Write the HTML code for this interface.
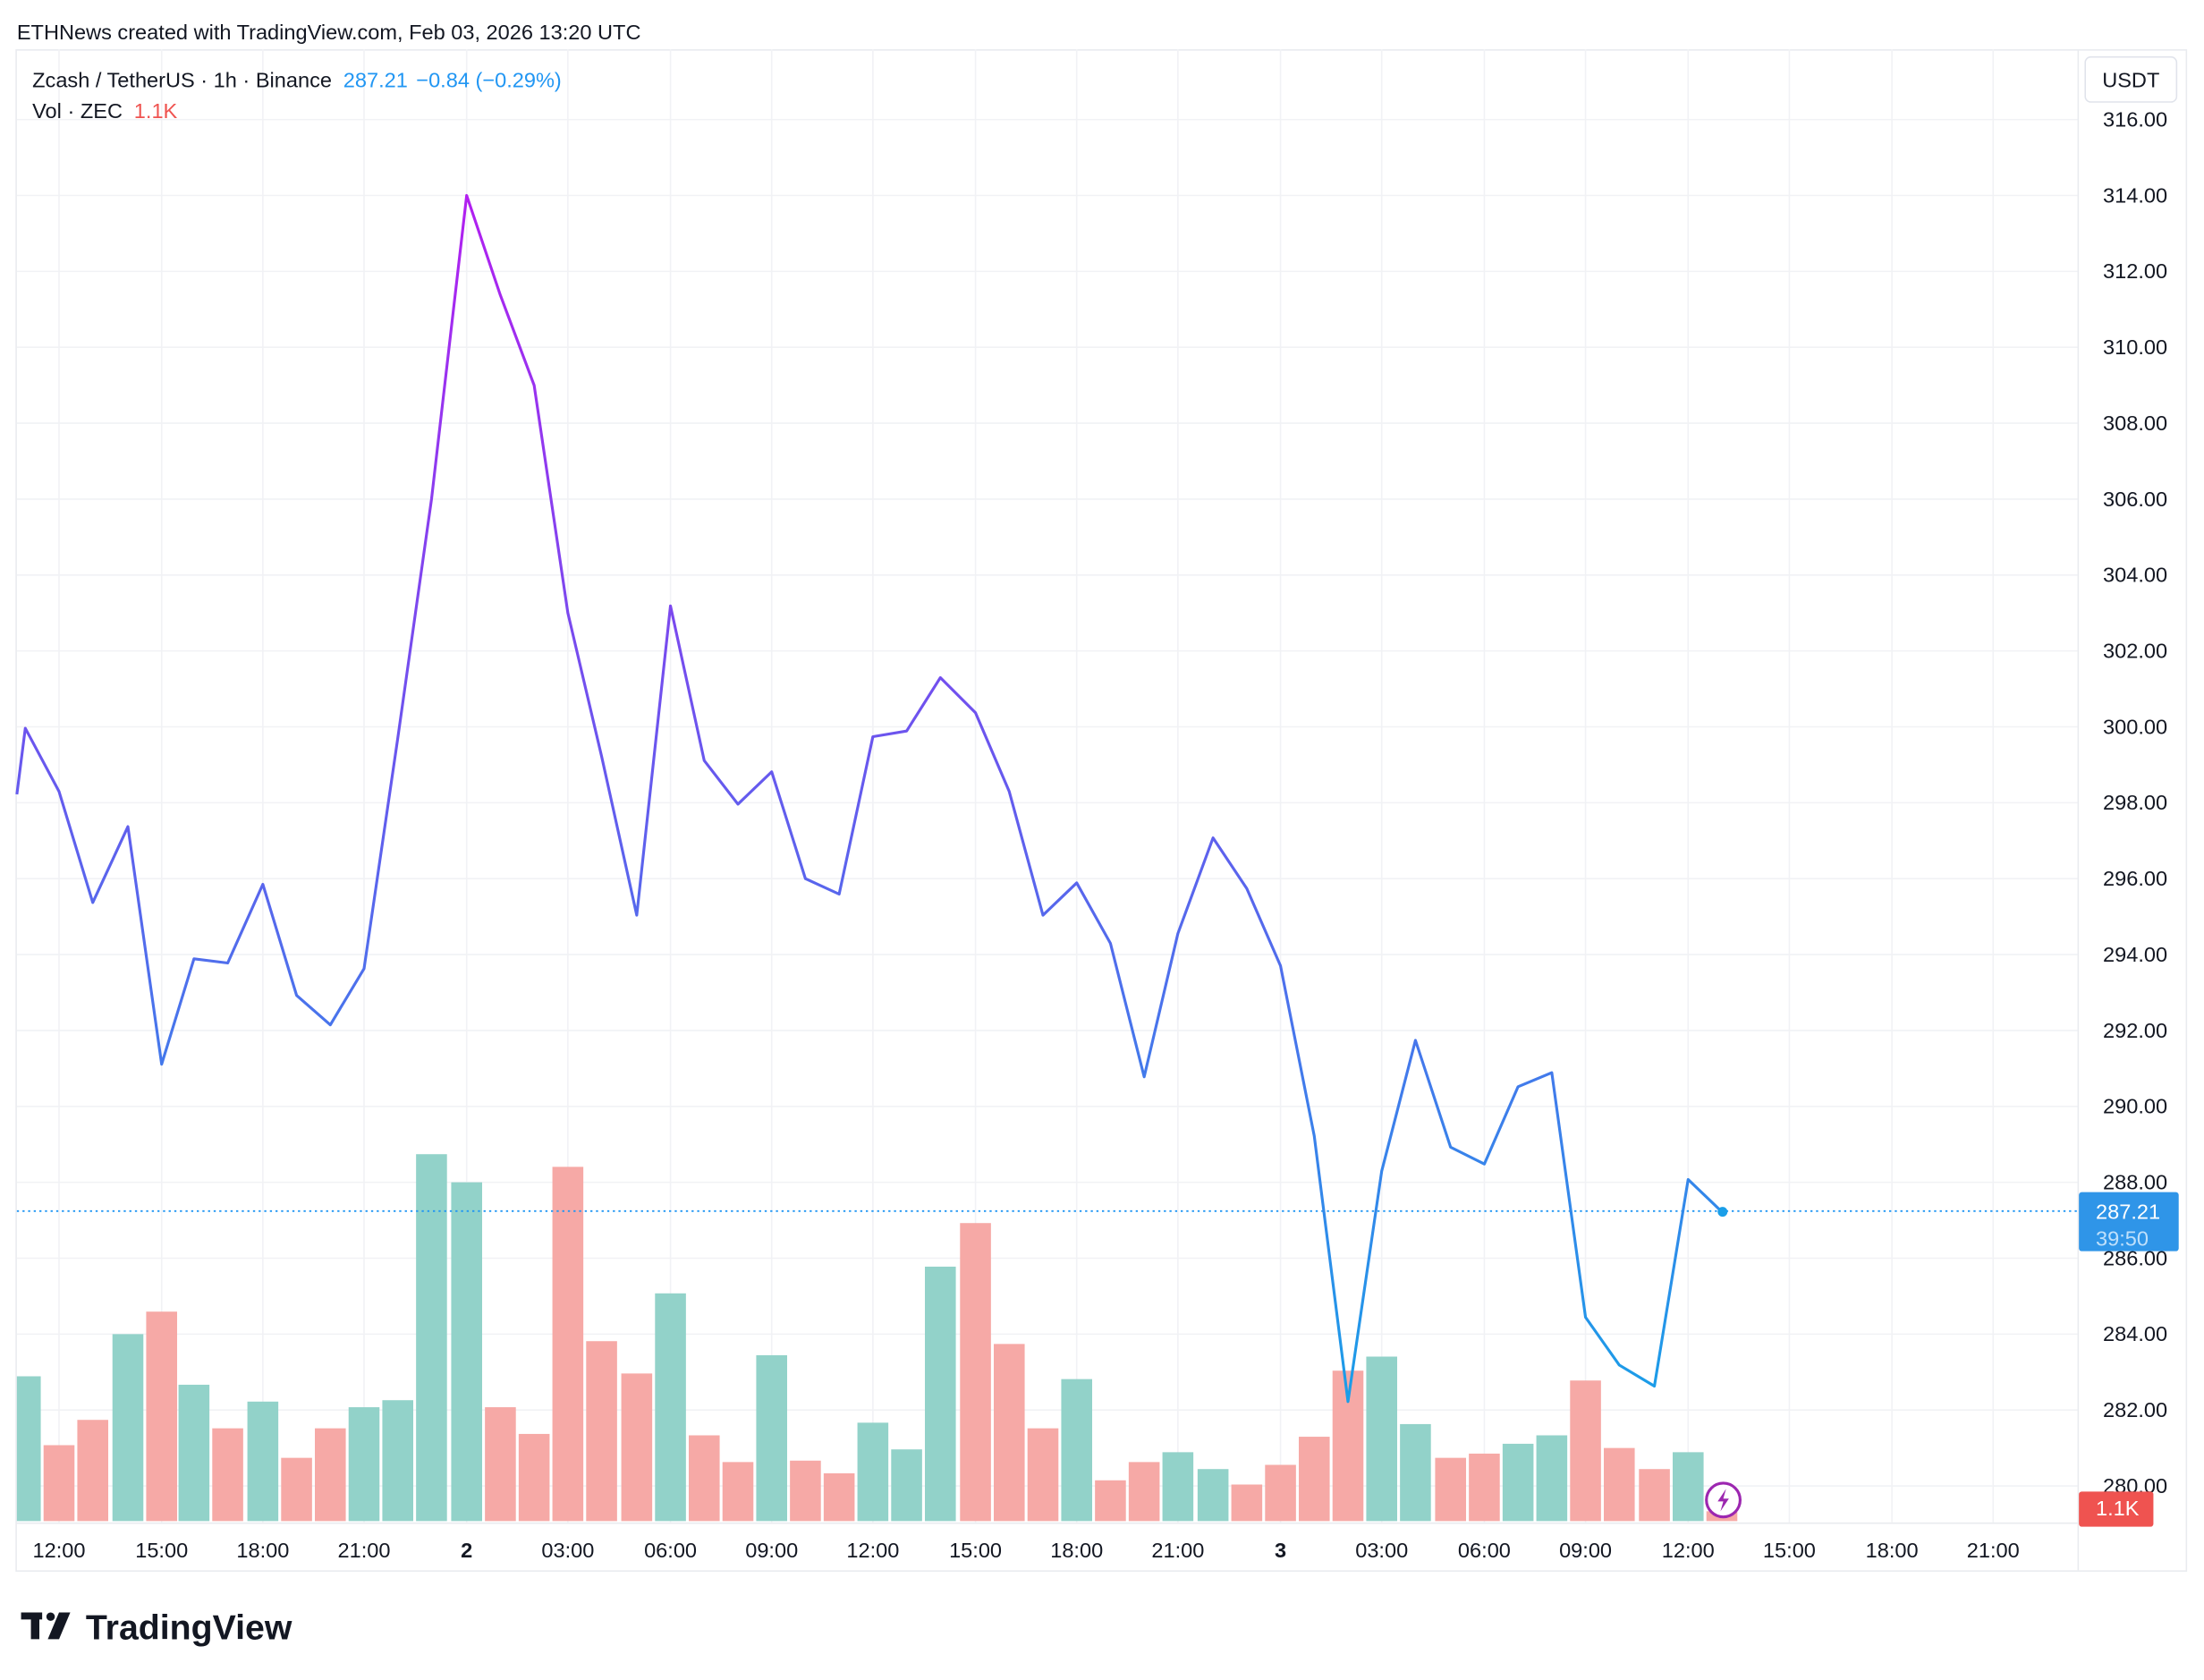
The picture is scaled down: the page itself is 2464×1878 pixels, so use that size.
<!DOCTYPE html>
<html><head><meta charset="utf-8"><style>
html,body{margin:0;padding:0;background:#fff;}
svg{display:block;font-family:"Liberation Sans",sans-serif;}
</style></head><body>
<svg width="2464" height="1878" viewBox="0 0 1568 1195" xmlns="http://www.w3.org/2000/svg">
<defs>
<linearGradient id="g" gradientUnits="userSpaceOnUse" x1="0" y1="139" x2="0" y2="997">
<stop offset="0" stop-color="#b21ff0"/>
<stop offset="0.45" stop-color="#6b55ee"/>
<stop offset="1" stop-color="#1a9ee8"/>
</linearGradient>
</defs>
<rect width="1568" height="1195" fill="#fff"/>
<text x="12" y="28" font-size="15" fill="#131722">ETHNews created with TradingView.com, Feb 03, 2026 13:20 UTC</text>
<rect x="11.5" y="35.5" width="1544" height="1082" fill="none" stroke="#e9ebef"/>
<line x1="1478.5" y1="35" x2="1478.5" y2="1117" stroke="#e9ebef"/>
<line x1="12" y1="1083.5" x2="1478" y2="1083.5" stroke="#e9ebef"/>
<g stroke="#f1f2f5" stroke-width="1">
<line x1="12" x2="1478" y1="85" y2="85"/><line x1="12" x2="1478" y1="139" y2="139"/><line x1="12" x2="1478" y1="193" y2="193"/><line x1="12" x2="1478" y1="247" y2="247"/><line x1="12" x2="1478" y1="301" y2="301"/><line x1="12" x2="1478" y1="355" y2="355"/><line x1="12" x2="1478" y1="409" y2="409"/><line x1="12" x2="1478" y1="463" y2="463"/><line x1="12" x2="1478" y1="517" y2="517"/><line x1="12" x2="1478" y1="571" y2="571"/><line x1="12" x2="1478" y1="625" y2="625"/><line x1="12" x2="1478" y1="679" y2="679"/><line x1="12" x2="1478" y1="733" y2="733"/><line x1="12" x2="1478" y1="787" y2="787"/><line x1="12" x2="1478" y1="841" y2="841"/><line x1="12" x2="1478" y1="895" y2="895"/><line x1="12" x2="1478" y1="949" y2="949"/><line x1="12" x2="1478" y1="1003" y2="1003"/><line x1="12" x2="1478" y1="1057" y2="1057"/>
<line y1="35" y2="1083" x1="42" x2="42"/><line y1="35" y2="1083" x1="115" x2="115"/><line y1="35" y2="1083" x1="187" x2="187"/><line y1="35" y2="1083" x1="259" x2="259"/><line y1="35" y2="1083" x1="332" x2="332"/><line y1="35" y2="1083" x1="404" x2="404"/><line y1="35" y2="1083" x1="477" x2="477"/><line y1="35" y2="1083" x1="549" x2="549"/><line y1="35" y2="1083" x1="621" x2="621"/><line y1="35" y2="1083" x1="694" x2="694"/><line y1="35" y2="1083" x1="766" x2="766"/><line y1="35" y2="1083" x1="838" x2="838"/><line y1="35" y2="1083" x1="911" x2="911"/><line y1="35" y2="1083" x1="983" x2="983"/><line y1="35" y2="1083" x1="1056" x2="1056"/><line y1="35" y2="1083" x1="1128" x2="1128"/><line y1="35" y2="1083" x1="1201" x2="1201"/><line y1="35" y2="1083" x1="1273" x2="1273"/><line y1="35" y2="1083" x1="1346" x2="1346"/><line y1="35" y2="1083" x1="1418" x2="1418"/>
</g>
<g>
<rect x="12" y="979" width="17" height="103" fill="#92d2c9"/>
<rect x="31" y="1028" width="22" height="54" fill="#f6a9a6"/>
<rect x="55" y="1010" width="22" height="72" fill="#f6a9a6"/>
<rect x="80" y="949" width="22" height="133" fill="#92d2c9"/>
<rect x="104" y="933" width="22" height="149" fill="#f6a9a6"/>
<rect x="127" y="985" width="22" height="97" fill="#92d2c9"/>
<rect x="151" y="1016" width="22" height="66" fill="#f6a9a6"/>
<rect x="176" y="997" width="22" height="85" fill="#92d2c9"/>
<rect x="200" y="1037" width="22" height="45" fill="#f6a9a6"/>
<rect x="224" y="1016" width="22" height="66" fill="#f6a9a6"/>
<rect x="248" y="1001" width="22" height="81" fill="#92d2c9"/>
<rect x="272" y="996" width="22" height="86" fill="#92d2c9"/>
<rect x="296" y="821" width="22" height="261" fill="#92d2c9"/>
<rect x="321" y="841" width="22" height="241" fill="#92d2c9"/>
<rect x="345" y="1001" width="22" height="81" fill="#f6a9a6"/>
<rect x="369" y="1020" width="22" height="62" fill="#f6a9a6"/>
<rect x="393" y="830" width="22" height="252" fill="#f6a9a6"/>
<rect x="417" y="954" width="22" height="128" fill="#f6a9a6"/>
<rect x="442" y="977" width="22" height="105" fill="#f6a9a6"/>
<rect x="466" y="920" width="22" height="162" fill="#92d2c9"/>
<rect x="490" y="1021" width="22" height="61" fill="#f6a9a6"/>
<rect x="514" y="1040" width="22" height="42" fill="#f6a9a6"/>
<rect x="538" y="964" width="22" height="118" fill="#92d2c9"/>
<rect x="562" y="1039" width="22" height="43" fill="#f6a9a6"/>
<rect x="586" y="1048" width="22" height="34" fill="#f6a9a6"/>
<rect x="610" y="1012" width="22" height="70" fill="#92d2c9"/>
<rect x="634" y="1031" width="22" height="51" fill="#92d2c9"/>
<rect x="658" y="901" width="22" height="181" fill="#92d2c9"/>
<rect x="683" y="870" width="22" height="212" fill="#f6a9a6"/>
<rect x="707" y="956" width="22" height="126" fill="#f6a9a6"/>
<rect x="731" y="1016" width="22" height="66" fill="#f6a9a6"/>
<rect x="755" y="981" width="22" height="101" fill="#92d2c9"/>
<rect x="779" y="1053" width="22" height="29" fill="#f6a9a6"/>
<rect x="803" y="1040" width="22" height="42" fill="#f6a9a6"/>
<rect x="827" y="1033" width="22" height="49" fill="#92d2c9"/>
<rect x="852" y="1045" width="22" height="37" fill="#92d2c9"/>
<rect x="876" y="1056" width="22" height="26" fill="#f6a9a6"/>
<rect x="900" y="1042" width="22" height="40" fill="#f6a9a6"/>
<rect x="924" y="1022" width="22" height="60" fill="#f6a9a6"/>
<rect x="948" y="975" width="22" height="107" fill="#f6a9a6"/>
<rect x="972" y="965" width="22" height="117" fill="#92d2c9"/>
<rect x="996" y="1013" width="22" height="69" fill="#92d2c9"/>
<rect x="1021" y="1037" width="22" height="45" fill="#f6a9a6"/>
<rect x="1045" y="1034" width="22" height="48" fill="#f6a9a6"/>
<rect x="1069" y="1027" width="22" height="55" fill="#92d2c9"/>
<rect x="1093" y="1021" width="22" height="61" fill="#92d2c9"/>
<rect x="1117" y="982" width="22" height="100" fill="#f6a9a6"/>
<rect x="1141" y="1030" width="22" height="52" fill="#f6a9a6"/>
<rect x="1166" y="1045" width="22" height="37" fill="#f6a9a6"/>
<rect x="1190" y="1033" width="22" height="49" fill="#92d2c9"/>
<rect x="1214" y="1075" width="22" height="7" fill="#f6a9a6"/>
</g>
<line x1="12" y1="861.5" x2="1478" y2="861.5" stroke="#2196f3" stroke-width="1.2" stroke-dasharray="1.5,2.5"/>
<polyline fill="none" stroke="url(#g)" stroke-width="2" stroke-linejoin="round" points="12,565 18,518 42,563 66,642 91,588 115,757 138,682 162,685 187,629 211,708 235,729 259,689 283,525 307,355 332,139 356,210 380,274 404,436 428,538 453,651 477,431 501,541 525,572 549,549 573,625 597,636 621,524 645,520 669,482 694,507 718,563 742,651 766,628 790,671 814,766 838,664 863,596 887,632 911,687 935,808 959,997 983,833 1007,740 1032,816 1056,828 1080,773 1104,763 1128,937 1152,971 1177,986 1201,839 1225,862"/>
<circle cx="1225.5" cy="862" r="3.5" fill="#1a9ee8"/>
<circle cx="1226" cy="1067" r="12" fill="#fff" stroke="#9c27b0" stroke-width="2"/>
<path d="M1228 1059 L1222 1068 L1226 1068 L1224 1075 L1230 1066 L1226 1066 Z" fill="#9c27b0"/>
<text x="23" y="62" font-size="15" fill="#131722">Zcash / TetherUS · 1h · Binance <tspan fill="#2196f3" dx="4">287.21</tspan><tspan fill="#2196f3" dx="6">−0.84 (−0.29%)</tspan></text>
<text x="23" y="84" font-size="15" fill="#131722">Vol · ZEC <tspan fill="#ef5350" dx="4">1.1K</tspan></text>
<rect x="1483.5" y="40.5" width="65" height="32" rx="4" fill="#fff" stroke="#e0e3eb"/>
<text x="1516" y="62" font-size="15" fill="#131722" text-anchor="middle">USDT</text>
<g font-size="15" fill="#131722" text-anchor="end">
<text x="1542" y="90">316.00</text><text x="1542" y="144">314.00</text><text x="1542" y="198">312.00</text><text x="1542" y="252">310.00</text><text x="1542" y="306">308.00</text><text x="1542" y="360">306.00</text><text x="1542" y="414">304.00</text><text x="1542" y="468">302.00</text><text x="1542" y="522">300.00</text><text x="1542" y="576">298.00</text><text x="1542" y="630">296.00</text><text x="1542" y="684">294.00</text><text x="1542" y="738">292.00</text><text x="1542" y="792">290.00</text><text x="1542" y="846">288.00</text><text x="1542" y="900">286.00</text><text x="1542" y="954">284.00</text><text x="1542" y="1008">282.00</text><text x="1542" y="1062">280.00</text>
</g>
<rect x="1479" y="848" width="71" height="42" rx="2" fill="#2f95e8"/>
<text x="1491" y="867" font-size="15" fill="#fff">287.21</text>
<text x="1491" y="886" font-size="15" fill="#bfe0fb">39:50</text>
<rect x="1479" y="1061" width="53" height="25" rx="2" fill="#ef5350"/>
<text x="1491" y="1078" font-size="15" fill="#fff">1.1K</text>
<g font-size="15" fill="#131722" text-anchor="middle">
<text x="42" y="1108">12:00</text><text x="115" y="1108">15:00</text><text x="187" y="1108">18:00</text><text x="259" y="1108">21:00</text><text x="332" y="1108" font-weight="bold">2</text><text x="404" y="1108">03:00</text><text x="477" y="1108">06:00</text><text x="549" y="1108">09:00</text><text x="621" y="1108">12:00</text><text x="694" y="1108">15:00</text><text x="766" y="1108">18:00</text><text x="838" y="1108">21:00</text><text x="911" y="1108" font-weight="bold">3</text><text x="983" y="1108">03:00</text><text x="1056" y="1108">06:00</text><text x="1128" y="1108">09:00</text><text x="1201" y="1108">12:00</text><text x="1273" y="1108">15:00</text><text x="1346" y="1108">18:00</text><text x="1418" y="1108">21:00</text>
</g>
<g fill="#131722">
<rect x="15" y="1147" width="15" height="5"/><rect x="22" y="1147" width="6" height="19"/>
<circle cx="36" cy="1150" r="3"/>
<path d="M42 1147 L50 1147 L42 1166 L34 1166 Z"/>
</g>
<text x="61" y="1166" font-size="25" font-weight="bold" fill="#131722">TradingView</text>
</svg>
</body></html>
